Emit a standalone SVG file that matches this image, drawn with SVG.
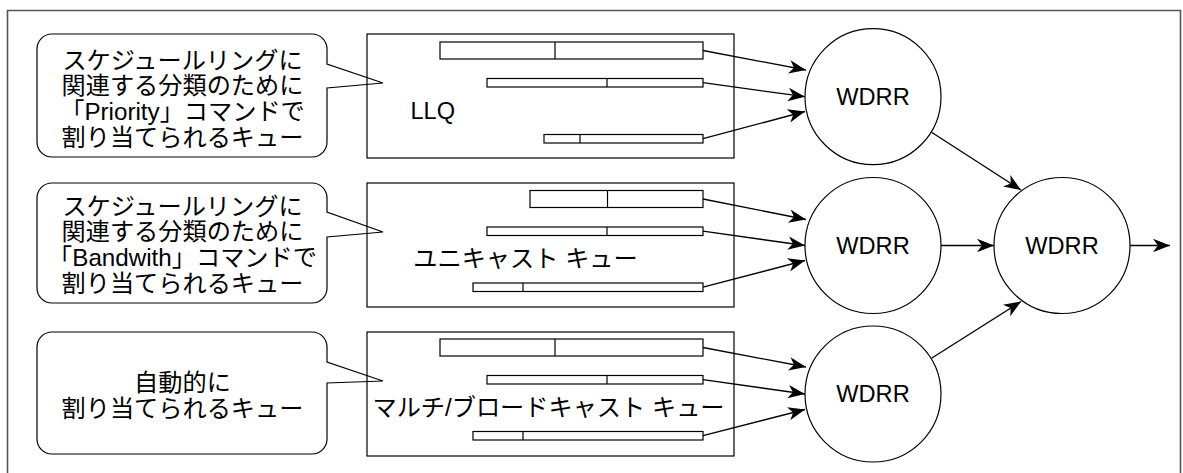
<svg xmlns="http://www.w3.org/2000/svg" width="1183" height="473" viewBox="0 0 1183 473">
  <style>
    .frame { fill: none; stroke: #555; stroke-width: 1.6; }
    .callout { fill: #fff; stroke: #000; stroke-width: 1.2; }
    .qbox { fill: none; stroke: #000; stroke-width: 1.2; }
    .bar { fill: #fff; stroke: #000; stroke-width: 1.2; }
    .div { stroke: #000; stroke-width: 1.2; }
    .node { fill: #fff; stroke: #000; stroke-width: 1.2; }
    .edge { fill: none; stroke: #000; stroke-width: 1.3; marker-end: url(#arrow); }
    text { font-family: "Liberation Sans", "Noto Sans CJK JP", sans-serif; font-size: 23.6px; fill: #000; }
    .note { font-size: 24.2px; }
    .c { text-anchor: middle; }
  </style>
  <defs>
    <marker id="arrow" viewBox="0 0 18 16" refX="17" refY="8" markerWidth="18" markerHeight="16" markerUnits="userSpaceOnUse" orient="auto">
      <path d="M0,1.2 L17,8 L0,14.8 L4.8,8 Z" fill="#000"/>
    </marker>
  </defs>

  <rect width="1183" height="473" fill="#fff"/>
  <!-- outer frame (bottom edge runs past the canvas) -->
  <path class="frame" d="M7.5,480 V10.5 H1180.5 V480"/>

  <!-- callouts -->
  <g id="callout-priority">
    <path class="callout" d="M52,34 H312 A15,15 0 0 1 327,49 V64 L383,83 L327,88 V142 A15,15 0 0 1 312,157 H52 A15,15 0 0 1 37,142 V49 A15,15 0 0 1 52,34 Z"/>
    <text class="c note" x="182.5" y="68.5">スケジュールリングに</text>
    <text class="c note" x="182.5" y="94.3">関連する分類のために</text>
    <text class="c note" x="182.5" y="120.1">「Priority」コマンドで</text>
    <text class="c note" x="182.5" y="145.9">割り当てられるキュー</text>
  </g>
  <g id="callout-bandwidth">
    <path class="callout" d="M52,183 H312 A15,15 0 0 1 327,198 V212 L383,232 L327,237 V288 A15,15 0 0 1 312,303 H52 A15,15 0 0 1 37,288 V198 A15,15 0 0 1 52,183 Z"/>
    <text class="c note" x="182.5" y="214.5">スケジュールリングに</text>
    <text class="c note" x="182.5" y="240.3">関連する分類のために</text>
    <text class="c note" x="182.5" y="266.1">「Bandwith」コマンドで</text>
    <text class="c note" x="182.5" y="291.9">割り当てられるキュー</text>
  </g>
  <g id="callout-auto">
    <path class="callout" d="M52,332 H312 A15,15 0 0 1 327,347 V362 L383,381 L327,383 V439 A15,15 0 0 1 312,454 H52 A15,15 0 0 1 37,439 V347 A15,15 0 0 1 52,332 Z"/>
    <text class="c note" x="182.5" y="390.5">自動的に</text>
    <text class="c note" x="182.5" y="416.5">割り当てられるキュー</text>
  </g>

  <!-- queue groups -->
  <g id="queue-llq">
    <rect class="qbox" x="367" y="34" width="367" height="124"/>
    <rect class="bar" x="440" y="42" width="263" height="17"/>
    <line class="div" x1="555" y1="42" x2="555" y2="59"/>
    <rect class="bar" x="487" y="78.5" width="216" height="8.5"/>
    <line class="div" x1="607" y1="78.5" x2="607" y2="87"/>
    <rect class="bar" x="544" y="134.5" width="159" height="8.5"/>
    <line class="div" x1="580" y1="134.5" x2="580" y2="143"/>
    <text x="410.5" y="118.5">LLQ</text>
  </g>
  <g id="queue-unicast">
    <rect class="qbox" x="367" y="183" width="367" height="124"/>
    <rect class="bar" x="530" y="190.5" width="173" height="17"/>
    <line class="div" x1="607.5" y1="190.5" x2="607.5" y2="207.5"/>
    <rect class="bar" x="487" y="227" width="216" height="8.5"/>
    <line class="div" x1="607" y1="227" x2="607" y2="235.5"/>
    <rect class="bar" x="473" y="283" width="230" height="8.5"/>
    <line class="div" x1="523" y1="283" x2="523" y2="291.5"/>
    <text class="c note" x="525.5" y="267">ユニキャスト キュー</text>
  </g>
  <g id="queue-multicast">
    <rect class="qbox" x="367" y="332" width="367" height="124"/>
    <rect class="bar" x="440" y="339" width="263" height="17"/>
    <line class="div" x1="555" y1="339" x2="555" y2="356"/>
    <rect class="bar" x="487" y="375.5" width="216" height="8.5"/>
    <line class="div" x1="607" y1="375.5" x2="607" y2="384"/>
    <rect class="bar" x="473" y="431.5" width="230" height="8.5"/>
    <line class="div" x1="523" y1="431.5" x2="523" y2="440"/>
    <text class="c note" x="548.5" y="416">マルチ/ブロードキャスト キュー</text>
  </g>

  <!-- schedulers -->
  <g id="wdrr-llq">
    <circle class="node" cx="873" cy="96.7" r="68"/>
    <text class="c" x="873" y="105.1">WDRR</text>
  </g>
  <g id="wdrr-unicast">
    <circle class="node" cx="873" cy="245.5" r="68"/>
    <text class="c" x="873" y="253.9">WDRR</text>
  </g>
  <g id="wdrr-multicast">
    <circle class="node" cx="873" cy="394" r="68"/>
    <text class="c" x="873" y="402.4">WDRR</text>
  </g>
  <g id="wdrr-out">
    <circle class="node" cx="1062" cy="245.5" r="68"/>
    <text class="c" x="1062" y="253.9">WDRR</text>
  </g>

  <!-- connectors -->
  <g id="connectors">
    <line class="edge" x1="703" y1="50.5" x2="806" y2="70"/>
    <line class="edge" x1="703" y1="82.7" x2="805" y2="96.7"/>
    <line class="edge" x1="703" y1="138.7" x2="805" y2="111.5"/>
    <line class="edge" x1="703" y1="199" x2="806" y2="219.5"/>
    <line class="edge" x1="703" y1="231.2" x2="805" y2="245.5"/>
    <line class="edge" x1="703" y1="287.2" x2="805" y2="260.5"/>
    <line class="edge" x1="703" y1="347.5" x2="806" y2="367"/>
    <line class="edge" x1="703" y1="379.7" x2="805" y2="394"/>
    <line class="edge" x1="703" y1="435.7" x2="805" y2="409.5"/>
    <line class="edge" x1="931.5" y1="132.3" x2="1021" y2="190"/>
    <line class="edge" x1="941" y1="245.5" x2="994" y2="245.5"/>
    <line class="edge" x1="931.5" y1="358.3" x2="1021" y2="301.5"/>
    <line class="edge" x1="1130" y1="245.5" x2="1170" y2="245.5"/>
  </g>
</svg>
